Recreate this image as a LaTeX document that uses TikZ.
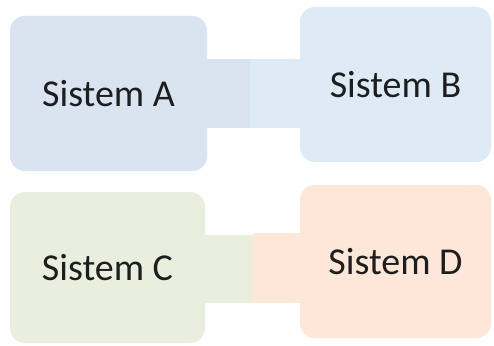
\documentclass[tikz,border=0pt]{standalone}
\usepackage{fontspec}
\setmainfont{Carlito}
\definecolor{fillA}{RGB}{218,227,240}
\definecolor{fillB}{RGB}{221,235,246}
\definecolor{fillC}{RGB}{233,238,223}
\definecolor{fillD}{RGB}{252,231,216}
\definecolor{ink}{RGB}{30,30,30}
\begin{document}
\begin{tikzpicture}[x=1pt,y=-1pt,
  sysbox/.style={rounded corners=15pt, inner sep=0pt, font=\fontsize{38}{40}\selectfont, text=ink},
  band/.style={draw=none}]
  \useasboundingbox[fill=white] (0,0) rectangle (494,345);
  % links between the paired systems
  \fill[fillA] (200,59) rectangle (250,128);
  \fill[fillB] (250,59) rectangle (306,128);
  \fill[fillC] (198,235) rectangle (253,303);
  \fill[fillD] (253,233) rectangle (306,303);
  % system boxes
  \node[sysbox, fill=fillA, minimum width=197pt, minimum height=155pt] (A) at (108.5,93.5) {Sistem A};
  \node[sysbox, fill=fillB, minimum width=191pt, minimum height=155pt] (B) at (395.5,84.5) {Sistem B};
  \node[sysbox, fill=fillC, minimum width=195pt, minimum height=151pt] (C) at (107.5,267.5) {Sistem C};
  \node[sysbox, fill=fillD, minimum width=191pt, minimum height=153pt] (D) at (395.5,261.5) {Sistem D};
\end{tikzpicture}
\end{document}
